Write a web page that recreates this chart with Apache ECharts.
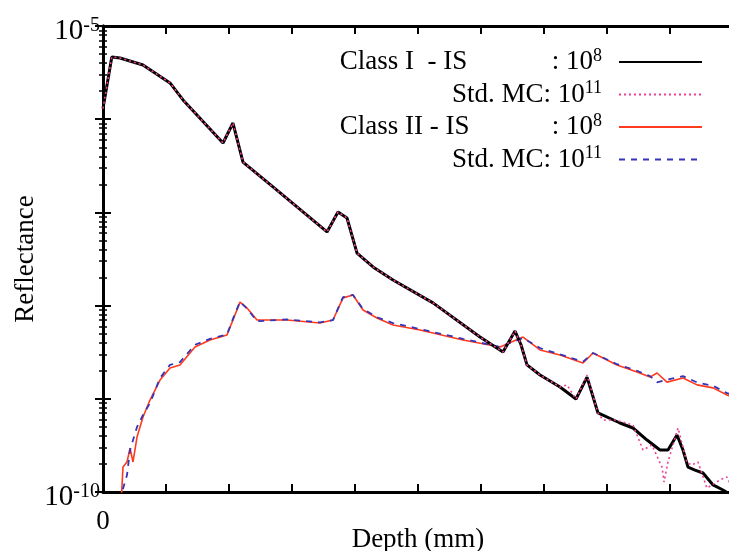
<!DOCTYPE html>
<html>
<head>
<meta charset="UTF-8">
<title>Reflectance vs depth</title>
<script src="https://cdn.jsdelivr.net/npm/echarts@6/dist/echarts.min.js"></script>
<style>
  html, body { margin: 0; padding: 0; background: #fff; }
  #chart { width: 729px; height: 551px; }
</style>
</head>
<body>
<div id="chart"></div>
<script>
// depth values (axis units 0..10), reflectance values
var classOneIS = [
  [0, 1.3e-6], [0.14, 4.65e-6], [0.27, 4.54e-6], [0.635, 3.82e-6], [1.063, 2.45e-6],
  [1.27, 1.61e-6], [1.905, 5.56e-7], [2.063, 9.1e-7], [2.222, 3.47e-7], [2.698, 1.875e-7],
  [3.556, 6.17e-8], [3.73, 1.01e-7], [3.873, 8.7e-8], [4.032, 3.66e-8], [4.286, 2.6e-8],
  [4.603, 1.88e-8], [5.238, 1.07e-8], [5.984, 4.6e-9], [6.349, 3.18e-9], [6.54, 5.33e-9],
  [6.635, 3.8e-9], [6.73, 2.31e-9], [6.937, 1.8e-9], [7.254, 1.34e-9], [7.508, 9.95e-10],
  [7.683, 1.71e-9], [7.857, 7.05e-10], [8.206, 5.5e-10], [8.413, 4.86e-10], [8.635, 3.61e-10],
  [8.841, 2.82e-10], [8.968, 2.82e-10], [9.111, 4.09e-10], [9.206, 2.82e-10], [9.286, 1.85e-10],
  [9.397, 1.72e-10], [9.524, 1.6e-10], [9.683, 1.19e-10], [9.841, 1.05e-10], [10, 0.9e-10]
];
var classOneMC = [
  [0, 1.3e-6], [0.14, 4.65e-6], [0.27, 4.54e-6], [0.635, 3.82e-6], [1.063, 2.45e-6],
  [1.27, 1.61e-6], [1.905, 5.56e-7], [2.063, 9.1e-7], [2.222, 3.47e-7], [2.698, 1.875e-7],
  [3.556, 6.17e-8], [3.73, 1.01e-7], [3.873, 8.7e-8], [4.032, 3.66e-8], [4.286, 2.6e-8],
  [4.603, 1.88e-8], [5.238, 1.07e-8], [5.984, 4.6e-9], [6.349, 3.18e-9], [6.54, 5.33e-9],
  [6.635, 3.8e-9], [6.73, 2.31e-9], [6.937, 1.8e-9], [7.254, 1.34e-9], [7.365, 1.41e-9],
  [7.508, 9.95e-10], [7.683, 1.8e-9], [7.857, 7.05e-10], [7.937, 5.93e-10], [8.127, 5.93e-10],
  [8.413, 5.24e-10], [8.571, 2.82e-10], [8.714, 3.19e-10], [8.873, 1.85e-10], [8.905, 1.28e-10],
  [8.968, 2.1e-10], [9.127, 4.86e-10], [9.27, 2.05e-10], [9.349, 1.95e-10], [9.444, 2.1e-10],
  [9.587, 1.1e-10], [9.667, 1.19e-10], [9.794, 1.35e-10], [9.905, 1.45e-10], [10, 1.05e-10]
];
var classTwoIS = [
  [0.29, 0.8e-10], [0.317, 1.85e-10], [0.381, 2.1e-10], [0.429, 2.96e-10], [0.476, 2.1e-10],
  [0.54, 3.89e-10], [0.635, 6.38e-10], [0.746, 9.7e-10], [0.905, 1.59e-9], [1.063, 2.14e-9],
  [1.222, 2.31e-9], [1.46, 3.6e-9], [1.698, 4.28e-9], [1.968, 4.84e-9], [2.063, 7.0e-9],
  [2.175, 1.09e-8], [2.286, 9.4e-9], [2.444, 7.0e-9], [2.921, 7.0e-9], [3.444, 6.5e-9],
  [3.651, 7.0e-9], [3.81, 1.21e-8], [3.968, 1.3e-8], [4.127, 8.97e-9], [4.349, 7.36e-9],
  [4.603, 6.2e-9], [5.032, 5.47e-9], [5.714, 4.28e-9], [6.302, 3.6e-9], [6.667, 4.6e-9],
  [6.937, 3.34e-9], [7.254, 2.95e-9], [7.619, 2.42e-9], [7.778, 3.1e-9], [8.159, 2.31e-9],
  [8.476, 1.94e-9], [8.683, 1.71e-9], [8.794, 1.89e-9], [8.952, 1.51e-9], [9.206, 1.67e-9],
  [9.429, 1.41e-9], [9.683, 1.31e-9], [9.905, 1.1e-9], [10, 1.05e-9]
];
var classTwoMC = [
  [0.29, 0.8e-10], [0.302, 1.0e-10], [0.381, 1.52e-10], [0.429, 2.82e-10], [0.54, 4.98e-10],
  [0.635, 6.7e-10], [0.746, 9.0e-10], [0.905, 1.67e-9], [1.063, 2.31e-9], [1.222, 2.48e-9],
  [1.46, 3.8e-9], [1.698, 4.4e-9], [1.968, 4.9e-9], [2.063, 7.2e-9], [2.175, 1.1e-8],
  [2.286, 9.3e-9], [2.444, 6.8e-9], [2.921, 7.1e-9], [3.444, 6.6e-9], [3.651, 7.0e-9],
  [3.81, 1.23e-8], [3.968, 1.3e-8], [4.127, 9.2e-9], [4.349, 7.5e-9], [4.603, 6.5e-9],
  [5.032, 5.6e-9], [5.714, 4.4e-9], [6.302, 3.6e-9], [6.667, 4.5e-9], [6.937, 3.5e-9],
  [7.254, 3.0e-9], [7.619, 2.5e-9], [7.778, 3.1e-9], [8.159, 2.35e-9], [8.476, 2.0e-9],
  [8.683, 1.75e-9], [8.794, 1.5e-9], [8.952, 1.6e-9], [9.206, 1.75e-9], [9.429, 1.5e-9],
  [9.683, 1.38e-9], [9.905, 1.15e-9], [10, 1.1e-9]
];

var legendNames = ['c1is', 'c1mc', 'c2is', 'c2mc'];
var legendLabels = {
  c1is: '{a|Class I  - IS}{b|: 10}{s|8}',
  c1mc: '{b|Std. MC: 10}{s|11}',
  c2is: '{a|Class II - IS}{b|: 10}{s|8}',
  c2mc: '{b|Std. MC: 10}{s|11}'
};

var serif = 'Liberation Serif';
var chart = echarts.init(document.getElementById('chart'));

function yLabel(v) {
  var e = Math.round(Math.log10(v));
  if (Math.abs(Math.log10(v) - e) > 0.01) return '';
  if (e === -5 || e === -10) return '{base|10}{sup|' + e + '}';
  return '';
}

var tickStyle = { show: true, inside: true, length: 8, lineStyle: { color: '#000', width: 2 } };
var lineAxis = { show: true, lineStyle: { color: '#000', width: 3 } };

chart.setOption({
  animation: false,
  backgroundColor: '#fff',
  textStyle: { fontFamily: serif },
  grid: { left: 103, top: 26, right: -4, bottom: 59, outerBoundsMode: 'none', containLabel: false },
  legend: {
    data: legendNames,
    orient: 'vertical',
    align: 'right',
    right: 21,
    top: 42,
    itemWidth: 83,
    itemHeight: 10,
    itemGap: 4,
    itemStyle: { opacity: 0 },
    formatter: function (n) { return legendLabels[n]; },
    textStyle: {
      fontFamily: serif,
      fontSize: 27,
      color: '#000',
      rich: {
        a: { fontFamily: serif, fontSize: 27, width: 212, align: 'left', lineHeight: 30 },
        b: { fontFamily: serif, fontSize: 27, lineHeight: 30 },
        s: { fontFamily: serif, fontSize: 18, verticalAlign: 'top', lineHeight: 18, padding: [0, 12, 0, 0] }
      }
    }
  },
  xAxis: [{
    type: 'value', min: 0, max: 10, interval: 1,
    axisLine: lineAxis, axisTick: tickStyle, splitLine: { show: false },
    axisLabel: {
      margin: 16, fontFamily: serif, fontSize: 27, color: '#000',
      formatter: function (v) { return v === 0 ? '0' : ''; }
    },
    name: 'Depth (mm)', nameLocation: 'middle', nameGap: 34, nameMoveOverlap: false,
    nameTextStyle: { fontFamily: serif, fontSize: 27, color: '#000' }
  }, {
    type: 'value', position: 'top', min: 0, max: 10, interval: 1,
    axisLine: lineAxis, axisTick: tickStyle, splitLine: { show: false },
    axisLabel: { show: false }
  }],
  yAxis: [{
    type: 'log', logBase: 10, min: 1e-10, max: 1e-5, splitNumber: 5,
    axisLine: lineAxis, axisTick: tickStyle,
    minorTick: { show: true, splitNumber: 9, length: 4, lineStyle: { color: '#000', width: 1.5 } },
    splitLine: { show: false },
    axisLabel: {
      margin: 3, color: '#000', fontFamily: serif, fontSize: 29, formatter: yLabel,
      padding: [10, 0, 0, 0],
      rich: {
        base: { fontFamily: serif, fontSize: 29, lineHeight: 30 },
        sup: { fontFamily: serif, fontSize: 20, verticalAlign: 'top', lineHeight: 18 }
      }
    },
    name: 'Reflectance', nameLocation: 'middle', nameGap: 64, nameMoveOverlap: false,
    nameTextStyle: { fontFamily: serif, fontSize: 27, color: '#000' }
  }, {
    type: 'log', logBase: 10, min: 1e-10, max: 1e-5, splitNumber: 5, position: 'right',
    axisLine: lineAxis, axisTick: tickStyle,
    minorTick: { show: true, splitNumber: 9, length: 4, lineStyle: { color: '#000', width: 1.5 } },
    splitLine: { show: false }, axisLabel: { show: false }
  }],
  series: [
    { name: 'c2is', type: 'line', data: classTwoIS, symbol: 'none', lineStyle: { color: '#ff3a1e', width: 1.6 }, itemStyle: { color: '#ff3a1e' } },
    { name: 'c2mc', type: 'line', data: classTwoMC, symbol: 'none', lineStyle: { color: '#3535b5', width: 1.8, type: [6, 6] }, itemStyle: { color: '#3535b5' } },
    { name: 'c1is', type: 'line', data: classOneIS, symbol: 'none', lineStyle: { color: '#000', width: 3 }, itemStyle: { color: '#000' } },
    { name: 'c1mc', type: 'line', data: classOneMC, symbol: 'none', lineStyle: { color: '#ee3f93', width: 1.6, type: [2, 3] }, itemStyle: { color: '#ee3f93' } }
  ]
});
</script>
</body>
</html>
